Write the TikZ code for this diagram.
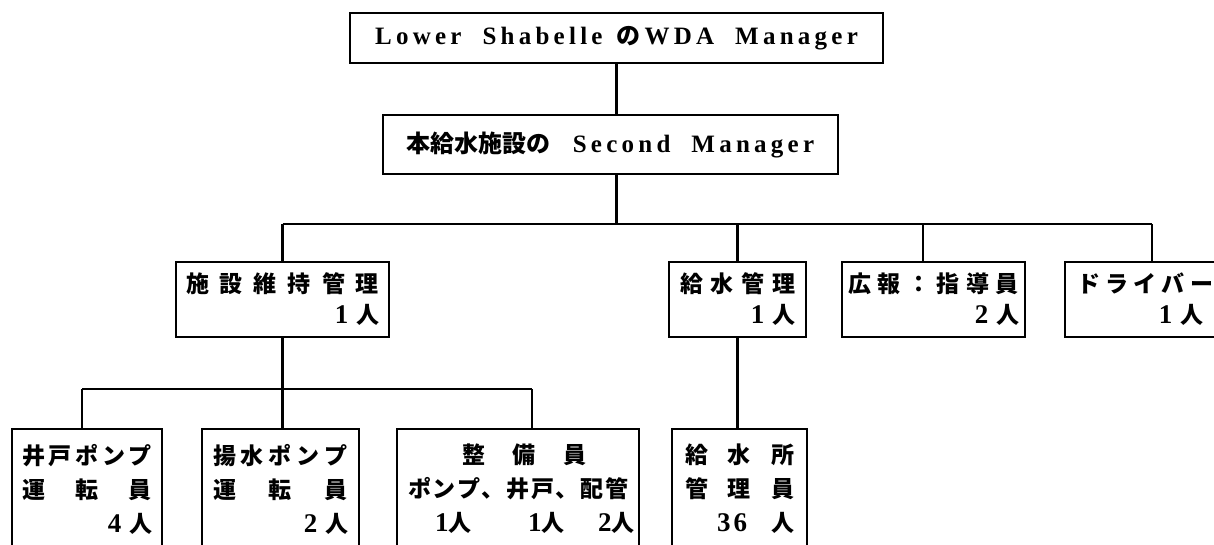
\documentclass[tikz,border=0pt]{standalone}
\usepackage{fontspec}
\setmainfont{Liberation Serif}
\newfontfamily\jp{Noto Sans CJK JP}
\newfontfamily\latsp{Liberation Serif}[LetterSpace=17,WordSpace=2]
\newcommand\dg[1]{{\rmfamily\bfseries\fontsize{27}{27}\selectfont #1}}
\begin{document}
\begin{tikzpicture}[x=1pt,y=-1pt,
  hbox/.style={draw,line width=2.4pt,inner sep=0pt,outer sep=0pt,anchor=north west,
    font=\fontsize{25}{30}\selectfont},
  obox/.style={draw,line width=2.4pt,inner ysep=0pt,outer sep=0pt,anchor=north west,align=left,
    font=\jp\bfseries\fontsize{23}{31}\selectfont},
  lbox/.style={draw,line width=2.4pt,inner ysep=0pt,outer sep=0pt,anchor=north west,align=left,
    font=\jp\bfseries\fontsize{23}{34}\selectfont},
  link/.style={line width=2.4pt},
  bus/.style={line width=1.6pt}]
\useasboundingbox (0,0) rectangle (1214,544);
\fill[white] (0,0) rectangle (1214,544);
\clip (0,0) rectangle (1214,544);

% top levels
\node[hbox,minimum width=533pt,minimum height=50pt] (top) at (350,13)
  {\latsp\bfseries Lower Shabelle\hspace{14pt}{\jp\bfseries\fontsize{24}{28}\selectfont の}\hspace{4pt}WDA Manager};
\node[hbox,minimum width=455pt,minimum height=59pt] (second) at (383,115)
  {{\jp\bfseries\fontsize{24}{28}\selectfont 本給水施設の}\hspace{22pt}\latsp\bfseries Second Manager};

% middle row
\node[obox,minimum width=213pt,minimum height=75pt,inner xsep=10pt,text width=193pt] (m1) at (176,262)
  {施\hfill 設\hfill 維\hfill 持\hfill 管\hfill 理\\ \hfill\dg{1} 人};
\node[obox,minimum width=137pt,minimum height=75pt,inner xsep=11pt,text width=115pt] (m2) at (669,262)
  {給\hfill 水\hfill 管\hfill 理\\ \hfill\dg{1} 人};
\node[obox,minimum width=183pt,minimum height=75pt,inner xsep=6pt,text width=171pt] (m3) at (842,262)
  {広\hfill 報\hfill ：\hfill 指\hfill 導\hfill 員\\ \hfill\dg{2} 人};
\node[obox,minimum width=160pt,minimum height=75pt,inner xsep=12pt,text width=136pt] (m4) at (1065,262)
  {ド\hfill ラ\hfill イ\hfill バ\hfill ー\\ \hfill\dg{1} 人\kern10pt};

% bottom row
\node[lbox,minimum width=150pt,minimum height=120pt,inner xsep=10pt,text width=130pt] (b1) at (12,429)
  {井\hfill 戸\hfill ポ\hfill ン\hfill プ\\ 運\hfill 転\hfill 員\\ \hfill\dg{4} 人};
\node[lbox,minimum width=157pt,minimum height=120pt,inner xsep=11pt,text width=135pt] (b2) at (202,429)
  {揚\hfill 水\hfill ポ\hfill ン\hfill プ\\ 運\hfill 転\hfill 員\\ \hfill\dg{2} 人};
\node[lbox,minimum width=242pt,minimum height=120pt,inner xsep=11pt,text width=220pt] (b3) at (397,429)
  {\hspace*{54pt}整\hfill 備\hfill 員\kern41pt\\
   ポ\hfill ン\hfill プ\hfill 、\hfill 井\hfill 戸\hfill 、\hfill 配\hfill 管\\
   \hspace*{27pt}\makebox[93pt][l]{\dg{1}人}\makebox[70pt][l]{\dg{1}人}\dg{2}人};
\node[lbox,minimum width=135pt,minimum height=120pt,inner xsep=13pt,text width=109pt] (b4) at (672,429)
  {給\hfill 水\hfill 所\\ 管\hfill 理\hfill 員\\ \hspace*{32pt}\dg{3\hspace{3pt}6}\hfill 人};

% connectors
\coordinate (busA) at (0,224);
\coordinate (j3) at (923,224);
\coordinate (j4) at (1152,224);
\coordinate (busB) at (0,389);
\coordinate (k1) at (82,389);
\coordinate (k3) at (532,389);

\draw[link] (top.south) -- (top.south |- second.north);
\draw[link] (second.south -| top.south) -- (top.south |- busA);
\draw[bus] (m1.north |- busA) -- (j4);
\draw[link] (m1.north |- busA) -- (m1.north);
\draw[link] (m2.north |- busA) -- (m2.north);
\draw[link] (j3) -- (j3 |- m3.north);
\draw[link] (j4) -- (j4 |- m4.north);

\draw[link] (m1.south) -- (m1.south |- b2.north);
\draw[bus] (k1) -- (k3);
\draw[link] (k1) -- (k1 |- b1.north);
\draw[link] (k3) -- (k3 |- b3.north);
\draw[link] (m2.south) -- (m2.south |- b4.north);
\end{tikzpicture}
\end{document}
